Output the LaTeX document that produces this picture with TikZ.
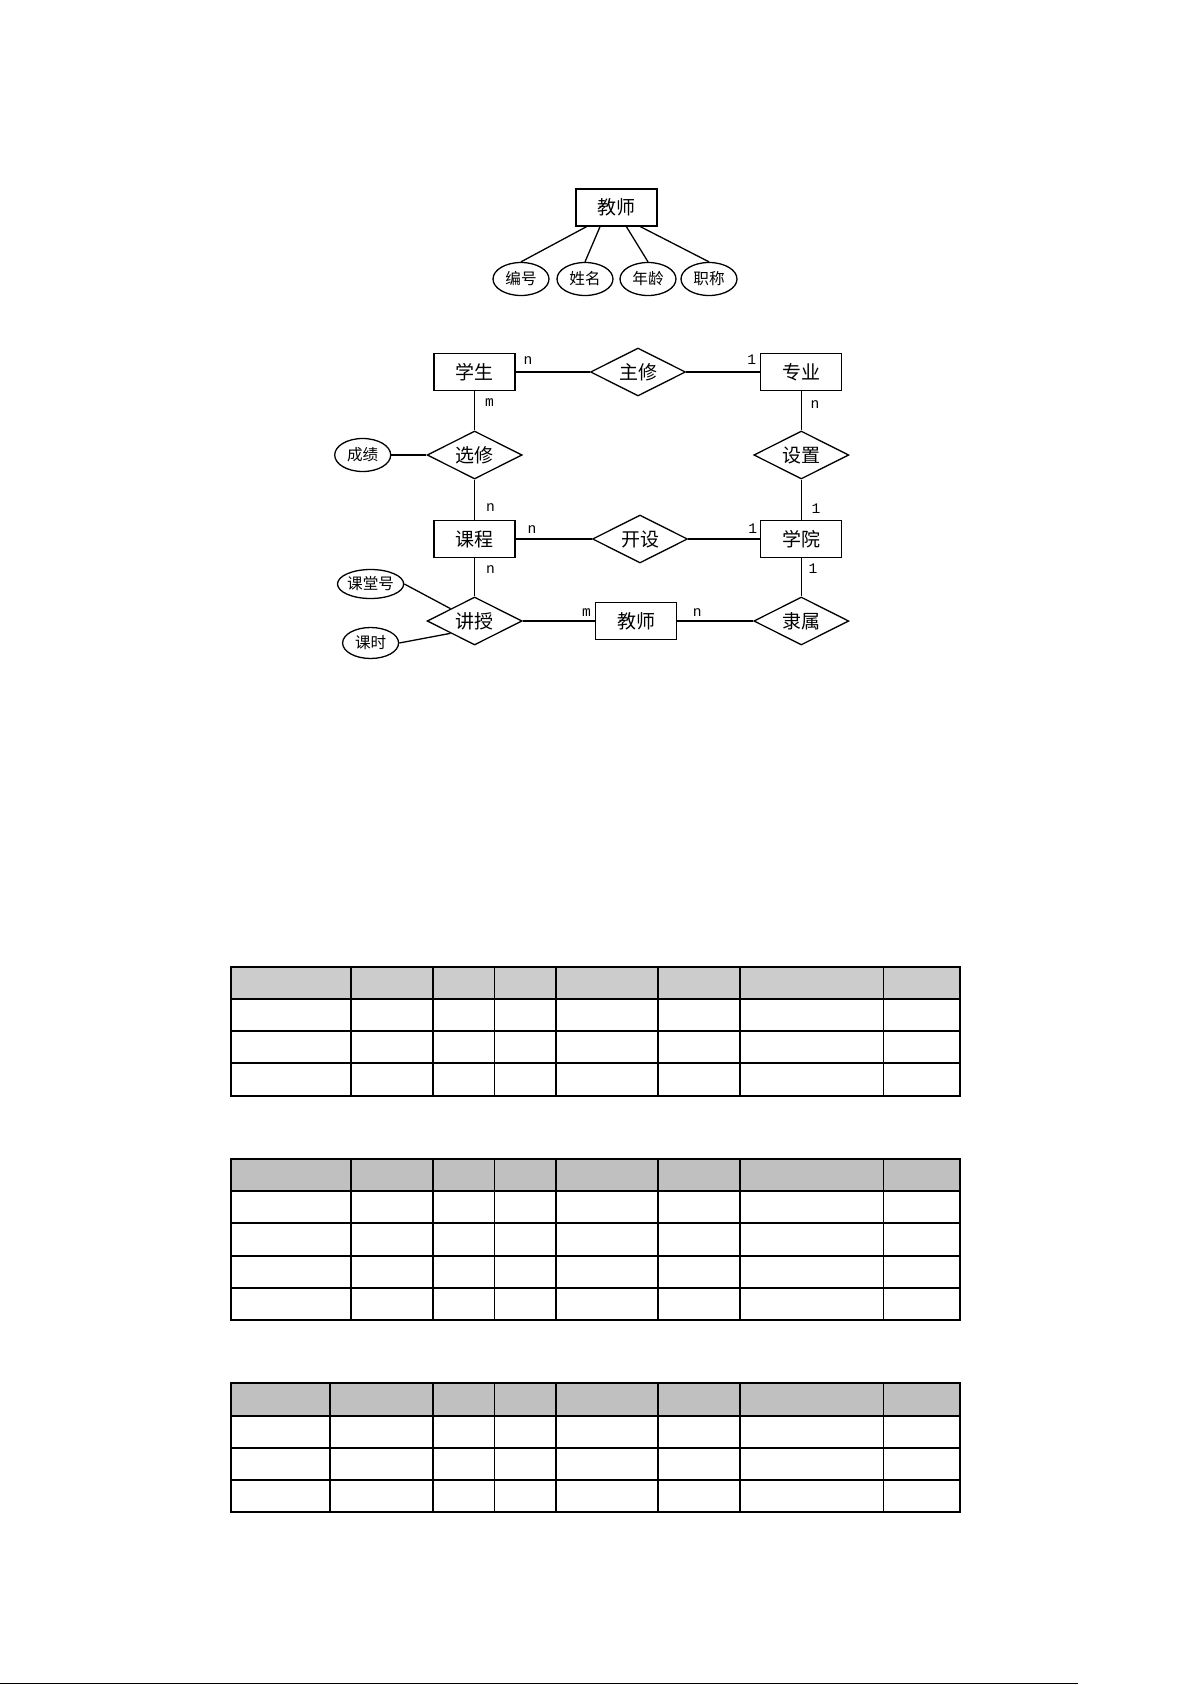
\documentclass[tikz,border=0pt]{standalone}
\usepackage{fontspec}
\newfontfamily\cjk{Noto Sans CJK SC}
\newfontfamily\lblfont{Liberation Mono}
\usetikzlibrary{shapes.geometric,calc}
\definecolor{hdrA}{HTML}{CCCCCC}
\definecolor{hdrB}{HTML}{C0C0C0}
\begin{document}
\begin{tikzpicture}[x=0.5pt,y=-0.5pt,
  ent/.style={draw,line width=0.65pt,minimum width=40.5pt,minimum height=18.5pt,inner sep=0pt,font=\cjk\fontsize{9.5}{11}\selectfont},
  rel/.style={draw,diamond,line width=0.65pt,minimum width=47.5pt,minimum height=24pt,inner sep=0pt,aspect=2,font=\cjk\fontsize{9.5}{11}\selectfont},
  attr/.style={draw,ellipse,line width=0.65pt,minimum width=28pt,minimum height=15pt,inner sep=0pt,font=\cjk\fontsize{7.8}{9}\selectfont},
  card/.style={font=\lblfont\fontsize{7.3}{8}\selectfont,inner sep=0pt},
  conn/.style={line width=0.65pt},
  tline/.style={line width=0.75pt}]
\useasboundingbox (0,0) rectangle (1192,1685);
\fill[white] (0,0) rectangle (1192,1685);

% ---------- top: teacher with attributes ----------
\node[ent] (T) at (616.5,207.5) {教师};
\node[attr,minimum height=16.5pt] (a1) at (521,279) {编号};
\node[attr,minimum height=16.5pt] (a2) at (585,279) {姓名};
\node[attr,minimum height=16.5pt] (a3) at (648,279) {年龄};
\node[attr,minimum height=16.5pt] (a4) at (709,279) {职称};
\draw[conn] ($(T.south west)!0.136!(T.south east)$) -- (a1.north);
\draw[conn] ($(T.south west)!0.30!(T.south east)$) -- (a2.north);
\draw[conn] ($(T.south west)!0.62!(T.south east)$) -- (a3.north);
\draw[conn] ($(T.south west)!0.79!(T.south east)$) -- (a4.north);

% ---------- ER diagram ----------
\node[ent] (S)   at (474.6,372) {学生};
\node[rel] (ZX)  at (638,372) {主修};
\node[ent] (ZY)  at (801.3,372) {专业};
\node[rel] (XX)  at (474.6,455) {选修};
\node[attr,minimum height=16.5pt] (CJ) at (362.7,455) {成绩};
\node[rel] (SZ)  at (801.3,455) {设置};
\node[ent] (KC)  at (474.6,539) {课程};
\node[rel] (KS)  at (640,539) {开设};
\node[ent] (XY)  at (801.3,539) {学院};
\node[rel] (JS)  at (474.6,621) {讲授};
\node[ent] (JSH) at (636,621) {教师};
\node[rel] (LS)  at (801.3,621) {隶属};
\node[attr,minimum height=14.5pt] (KTH) at (370.6,584) {课堂号};
\node[attr,minimum height=15.5pt] (KSH) at (370.6,643) {课时};

\draw[conn] (S.east) -- (ZX.west);
\draw[conn] (ZX.east) -- (ZY.west);
\draw[conn] (S.south) -- (XX.north);
\draw[conn] (XX.south) -- (KC.north);
\draw[conn] (CJ.east) -- (XX.west);
\draw[conn] (ZY.south) -- (SZ.north);
\draw[conn] (SZ.south) -- (XY.north);
\draw[conn] (KC.east) -- (KS.west);
\draw[conn] (KS.east) -- (XY.west);
\draw[conn] (KC.south) -- (JS.north);
\draw[conn] (JS.east) -- (JSH.west);
\draw[conn] (JSH.east) -- (LS.west);
\draw[conn] (XY.south) -- (LS.north);
\draw[conn] (KTH.east) -- (JS.north west);
\draw[conn] (KSH.east) -- (JS.south west);

% cardinalities
\node[card] (c1)  at (528,361) {n};
\node[card] (c2)  at (751.8,360) {1};
\node[card] (c3)  at (489.4,403) {m};
\node[card] (c4)  at (815,405) {n};
\node[card] (c5)  at (490.4,508) {n};
\node[card] (c6)  at (816,509) {1};
\node[card] (c7)  at (532,530) {n};
\node[card] (c8)  at (752.8,529) {1};
\node[card] (c9)  at (490.4,570) {n};
\node[card] (c10) at (813,569) {1};
\node[card] (c11) at (586.5,613) {m};
\node[card] (c12) at (697.3,613) {n};

% ---------- table 1 ----------
\fill[hdrA] (231,967) rectangle (960,999);
\draw[tline] (231,967) rectangle (960,1096);
\foreach \y in {999,1031,1063} \draw[tline] (231,\y) -- (960,\y);
\foreach \x in {351,433,494.5,556,658,740,883.7} \draw[tline] (\x,967) -- (\x,1096);

% ---------- table 2 ----------
\fill[hdrB] (231,1159) rectangle (960,1191);
\draw[tline] (231,1159) rectangle (960,1320);
\foreach \y in {1191,1223,1256,1288} \draw[tline] (231,\y) -- (960,\y);
\foreach \x in {351,433,494.5,556,658,740,883.7} \draw[tline] (\x,1159) -- (\x,1320);

% ---------- table 3 ----------
\fill[hdrB] (231,1383) rectangle (960,1416);
\draw[tline] (231,1383) rectangle (960,1512);
\foreach \y in {1416,1448,1480} \draw[tline] (231,\y) -- (960,\y);
\foreach \x in {330,433,494.5,556,658,740,883.7} \draw[tline] (\x,1383) -- (\x,1512);

% footer rule
\draw[line width=0.8pt] (0,1683.5) -- (1078,1683.5);
\end{tikzpicture}
\end{document}
